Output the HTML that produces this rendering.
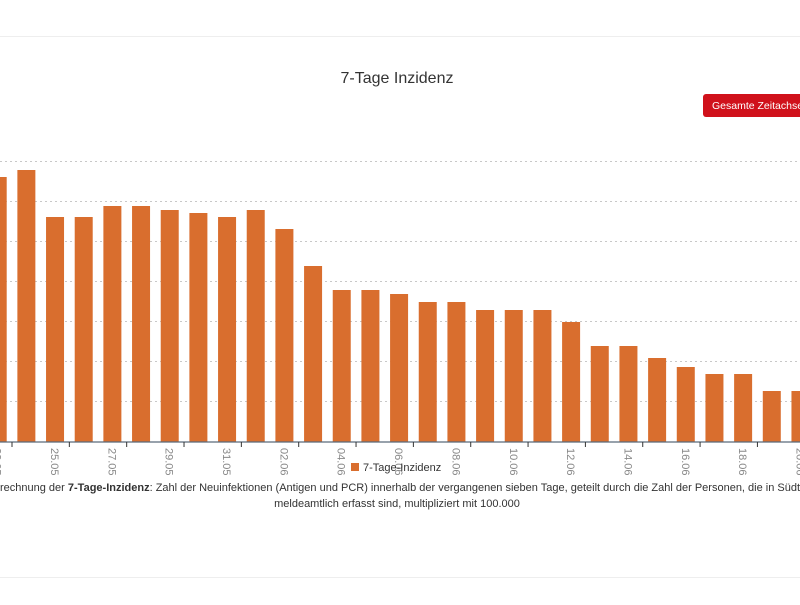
<!DOCTYPE html>
<html><head><meta charset="utf-8"><style>
body{margin:0;background:#fff;width:800px;height:600px;overflow:hidden;font-family:"Liberation Sans",sans-serif;}
</style></head><body>
<svg width="800" height="600" xmlns="http://www.w3.org/2000/svg" font-family="Liberation Sans, sans-serif">
<line x1="0" y1="36.5" x2="800" y2="36.5" stroke="#eee"/>
<line x1="0" y1="577.5" x2="800" y2="577.5" stroke="#eee"/>
<text x="397" y="83" text-anchor="middle" font-size="16" fill="#333">7-Tage Inzidenz</text>
<rect x="703" y="94" width="110" height="23" rx="3" fill="#d0111b"/>
<text x="712" y="109" font-size="10.5" fill="#fff">Gesamte Zeitachse anzeigen</text>
<g stroke="#c8c8c8" stroke-dasharray="2,3">
<line x1="0" x2="800" y1="161.5" y2="161.5"/><line x1="0" x2="800" y1="201.5" y2="201.5"/>
<line x1="0" x2="800" y1="241.5" y2="241.5"/><line x1="0" x2="800" y1="281.5" y2="281.5"/>
<line x1="0" x2="800" y1="321.5" y2="321.5"/><line x1="0" x2="800" y1="361.5" y2="361.5"/>
<line x1="0" x2="800" y1="401.5" y2="401.5"/>
</g>
<g fill="#d96e2e" id="bars"></g>
<line x1="0" x2="800" y1="442" y2="442" stroke="#5a6a7a" stroke-width="1.2"/>
<g id="ticks" stroke="#333"></g>
<g id="labels" font-size="11" fill="#888"></g>
<rect x="351" y="463" width="8" height="8" fill="#d96e2e"/>
<text x="363" y="471" font-size="11" fill="#333">7-Tage-Inzidenz</text>
<text x="0" y="491" font-size="11" fill="#333">rechnung der <tspan font-weight="bold">7-Tage-Inzidenz</tspan>: Zahl der Neuinfektionen (Antigen und PCR) innerhalb der vergangenen sieben Tage, geteilt durch die Zahl der Personen, die in Südtirol</text>
<text x="397" y="507" text-anchor="middle" font-size="11" fill="#333">meldeamtlich erfasst sind, multipliziert mit 100.000</text>
</svg>
<script>
var tops=[177,170,217,217,206,206,210,213,217,210,229,266,290,290,294,302,302,310,310,310,322,346,346,358,367,374,374,391,391];
var ns="http://www.w3.org/2000/svg",b=document.getElementById('bars'),t=document.getElementById('ticks'),l=document.getElementById('labels');
var labs=["23.05","25.05","27.05","29.05","31.05","02.06","04.06","06.06","08.06","10.06","12.06","14.06","16.06","18.06","20.06"];
tops.forEach(function(y,i){var x=-11.3+i*28.67;var r=document.createElementNS(ns,'rect');r.setAttribute('x',x);r.setAttribute('y',y);r.setAttribute('width',18);r.setAttribute('height',442-y);b.appendChild(r);});
for(var k=0;k<15;k++){var tx=12+k*57.34;var ln=document.createElementNS(ns,'line');ln.setAttribute('x1',tx);ln.setAttribute('x2',tx);ln.setAttribute('y1',442);ln.setAttribute('y2',447);t.appendChild(ln);
var cx=-2.3+k*57.34;var tt=document.createElementNS(ns,'text');tt.setAttribute('transform','translate('+(cx-4)+',448) rotate(90)');tt.textContent=labs[k];l.appendChild(tt);}
</script>
</body></html>
